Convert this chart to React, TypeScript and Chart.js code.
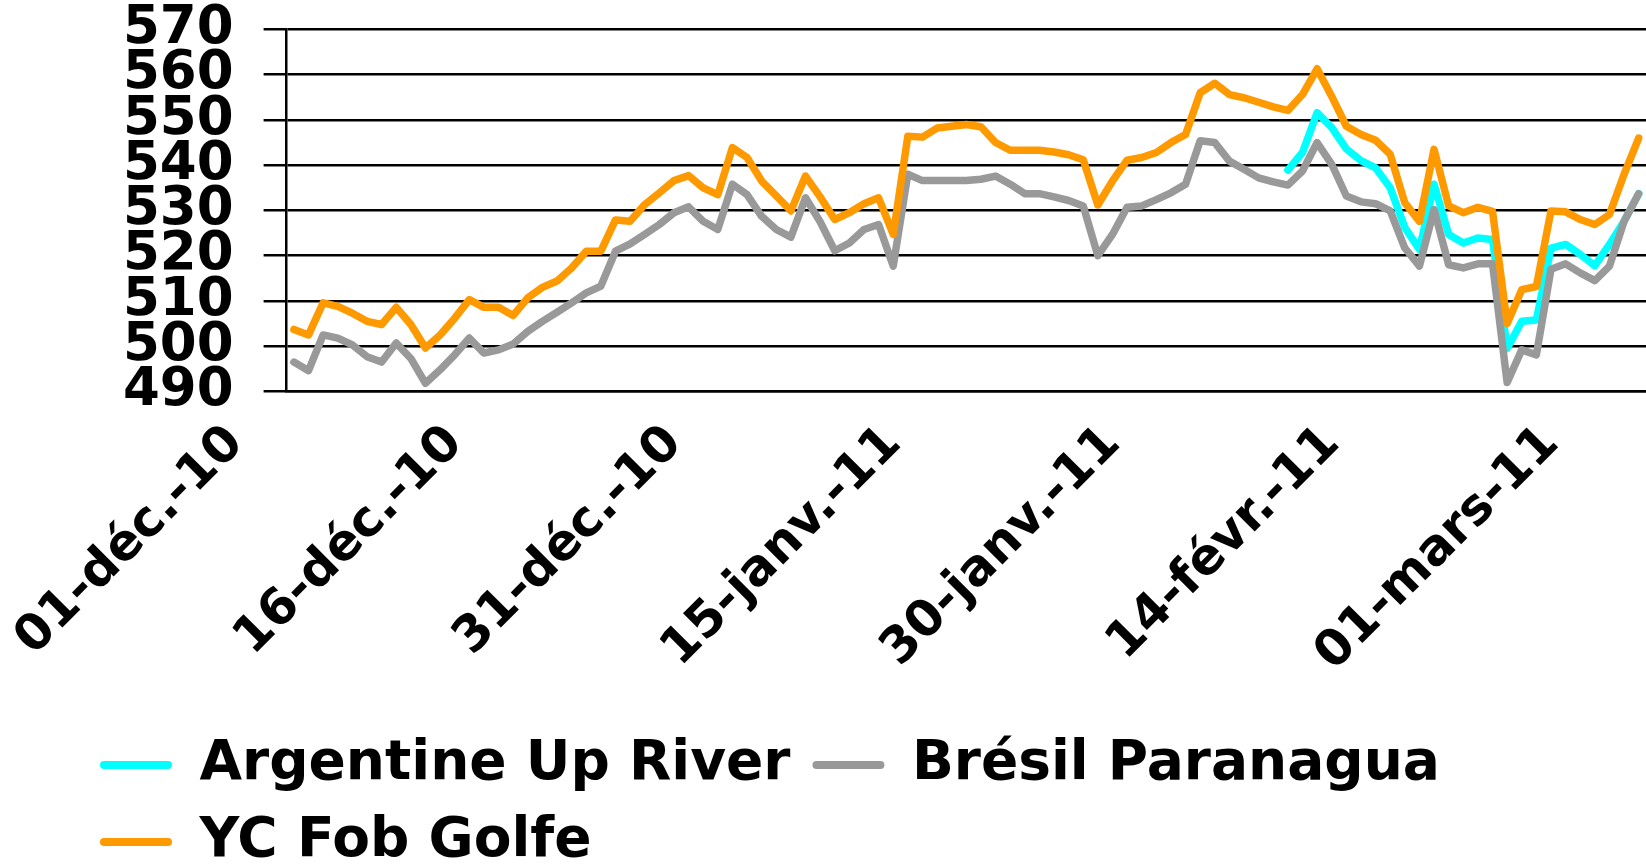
import React, { useEffect, useRef } from 'react';
import { Chart, registerables } from 'chart.js';

Chart.register(...registerables);

// One category per calendar day, 01-déc.-10 … 03-mars-11
const dayCount = 93;
const categories: number[] = Array.from({ length: dayCount }, (_, i) => i);

// Labels shown every 15 days
const tickLabels = ['01-déc.-10', '16-déc.-10', '31-déc.-10', '15-janv.-11', '30-janv.-11', '14-févr.-11', '01-mars-11'];

const ycFobGolfe = [
  503.7, 502.5, 509.6, 508.8, 507.3, 505.5, 504.8, 508.6, 504.8, 499.6,
  502.5, 506.2, 510.3, 508.6, 508.6, 506.8, 510.7, 513.0, 514.4, 517.3,
  521.0, 521.0, 527.9, 527.6, 531.3, 533.9, 536.6, 537.7, 535.0, 533.5,
  543.9, 541.7, 536.5, 533.2, 529.9, 537.6, 533.0, 528.0, 529.5, 531.5,
  532.8, 524.7, 546.4, 546.2, 548.2, 548.6, 549.0, 548.5, 545.0, 543.3,
  543.3, 543.3, 542.9, 542.3, 541.2, 531.2, 536.5, 541.1, 541.7, 542.8,
  545.0, 546.8, 556.0, 558.1, 555.6, 554.9, 553.9, 552.9, 552.1, 555.6,
  561.3, 555.2, 548.6, 546.8, 545.5, 542.4, 531.7, 527.6, 543.5, 531.0,
  529.5, 530.7, 529.8, 505.0, 512.5, 513.2, 529.9, 529.7, 528.0, 526.9,
  529.1, 538.0, 546.0,
];

const bresilParanagua = [
  496.5, 494.6, 502.5, 501.8, 500.3, 497.7, 496.5, 500.7, 497.3, 491.8,
  494.8, 498.1, 501.8, 498.5, 499.2, 500.5, 503.3, 505.5, 507.5, 509.6,
  511.8, 513.3, 521.0, 522.6, 524.7, 526.9, 529.5, 530.8, 527.6, 525.8,
  535.8, 533.5, 528.7, 525.8, 524.1, 532.8, 527.5, 521.1, 522.8, 525.8,
  526.9, 517.7, 538.0, 536.6, 536.6, 536.6, 536.6, 536.9, 537.6, 535.8,
  533.7, 533.7, 533.0, 532.2, 531.0, 520.0, 524.7, 530.7, 531.0, 532.4,
  533.9, 535.8, 545.4, 545.0, 540.9, 539.1, 537.2, 536.3, 535.6, 538.7,
  545.0, 540.2, 533.2, 531.9, 531.5, 529.9, 521.7, 517.7, 530.2, 518.0,
  517.3, 518.2, 518.2, 492.0, 499.2, 498.1, 517.0, 518.2, 516.2, 514.5,
  517.7, 527.6, 533.7,
];

const argentineUpRiver: (number | null)[] = [
  null, null, null, null, null, null, null, null, null, null,
  null, null, null, null, null, null, null, null, null, null,
  null, null, null, null, null, null, null, null, null, null,
  null, null, null, null, null, null, null, null, null, null,
  null, null, null, null, null, null, null, null, null, null,
  null, null, null, null, null, null, null, null, null, null,
  null, null, null, null, null, null, null, null, 538.9, 542.8,
  551.6, 548.3, 543.6, 541.0, 539.4, 535.0, 526.2, 521.4, 535.8, 524.7,
  522.8, 523.9, 523.6, 499.5, 505.5, 505.8, 521.7, 522.5, 520.3, 517.8,
  522.5, 527.6, 533.7,
];

const FONT = "'DejaVu Sans', 'Liberation Sans', sans-serif";

export default function App() {
  const ref = useRef<HTMLCanvasElement | null>(null);

  useEffect(() => {
    if (!ref.current) return;
    const common = {
      borderWidth: 7.5,
      pointRadius: 0,
      pointHoverRadius: 0,
      tension: 0,
      borderJoinStyle: 'round' as const,
      borderCapStyle: 'round' as const,
      fill: false,
    };
    const chart = new Chart(ref.current, {
      type: 'line',
      data: {
        labels: categories,
        datasets: [
          { ...common, label: 'Argentine Up River', data: argentineUpRiver, borderColor: '#00FFFF', backgroundColor: '#00FFFF', order: 3 },
          { ...common, label: 'Brésil Paranagua', data: bresilParanagua, borderColor: '#999999', backgroundColor: '#999999', order: 2 },
          { ...common, label: 'YC Fob Golfe', data: ycFobGolfe, borderColor: '#FF9900', backgroundColor: '#FF9900', order: 1 },
        ],
      },
      options: {
        animation: false,
        responsive: false,
        devicePixelRatio: 1,
        layout: { padding: { left: 78, right: -3, top: 29.4, bottom: -14.5 } },
        plugins: {
          tooltip: { enabled: false },
          legend: {
            position: 'bottom',
            align: 'start',
            labels: {
              color: '#000',
              font: { family: FONT, size: 55, weight: 'bold' },
              boxWidth: 72,
              boxHeight: 8,
              padding: 22,
              useBorderRadius: true,
              borderRadius: 4,
              generateLabels: (c: any) =>
                c.data.datasets.map((ds: any, i: number) => ({
                  text: ds.label,
                  fillStyle: ds.borderColor,
                  strokeStyle: ds.borderColor,
                  lineWidth: 0,
                  hidden: false,
                  datasetIndex: i,
                  borderRadius: 4,
                  fontColor: '#000',
                })),
            },
          },
        },
        scales: {
          x: {
            type: 'category',
            offset: true,
            grid: {
              drawOnChartArea: false,
              drawTicks: true,
              tickLength: 17,
              lineWidth: 2.5,
              offset: true,
              color: (ctx: any) => (ctx.index % 15 === 0 ? '#000' : 'rgba(0,0,0,0)'),
            },
            border: { display: true, color: '#000', width: 2.5 },
            ticks: {
              autoSkip: false,
              minRotation: 45,
              maxRotation: 45,
              padding: 6,
              labelOffset: -58,
              color: '#000',
              font: { family: FONT, size: 50, weight: 'bold' },
              callback: (_v: any, idx: number) => (idx % 15 === 0 ? tickLabels[idx / 15] : null),
            },
            afterFit: (s: any) => {
              s.height = 324;
              s.paddingLeft = 0;
              s.paddingRight = 0;
            },
          },
          y: {
            min: 490,
            max: 570,
            grid: { color: '#000', lineWidth: 2.5, tickLength: 23, drawTicks: true },
            border: { display: true, color: '#000', width: 2.5 },
            ticks: {
              stepSize: 10,
              autoSkip: false,
              padding: 30,
              color: '#000',
              font: { family: FONT, size: 53, weight: 'bold', lineHeight: 1 },
            },
            afterFit: (s: any) => {
              s.width = 208.6;
              s.paddingTop = 0;
              s.paddingBottom = 0;
            },
          },
        },
      },
    } as any);
    return () => chart.destroy();
  }, []);

  return (
    <div style={{ position: 'fixed', left: 0, top: 0, width: 1646, height: 865, background: '#fff' }}>
      <canvas ref={ref} width={1646} height={865} style={{ display: 'block', width: 1646, height: 865 }} />
    </div>
  );
}
